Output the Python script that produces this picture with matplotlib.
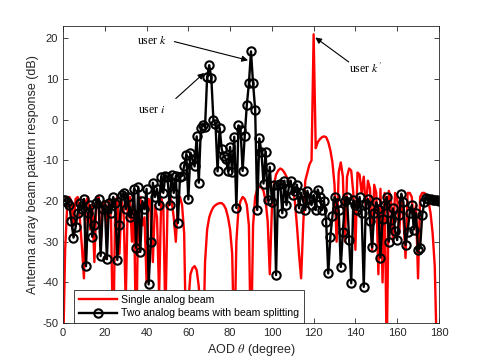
import numpy as np
import matplotlib
matplotlib.use("Agg")
import matplotlib.pyplot as plt

# AOD grid (degrees) and responses
theta = np.arange(0, 181)

single_beam = [
    -58, -32, -21, -19, -20, -26, -19.5, -19, -24, -31,
    -39, -20, -19, -27, -21, -35, -20, -19, -31, -21,
    -20, -28, -19.5, -25, -58, -20, -19, -33, -20, -22,
    -45, -20, -19, -30, -21, -58, -20, -19, -26, -24,
    -40, -19.5, -20, -35, -21, -24, -43, -19.5, -21, -49,
    -22, -19, -20, -24, -30, -20.5, -19, -21, -28, -58,
    -45, -38, -36.5, -36, -37, -41, -50, -58, -35, -27,
    -24, -22.5, -21.5, -21, -20.7, -20.5, -20.5, -21, -22, -24,
    -27, -33, -58, -30, -22, -20, -19, -19.5, -21, -26,
    -58, -26, -19, -17, -16.5, -16.6, -17.5, -20, -25, -38,
    -22, -16, -13.5, -12.5, -12, -12.3, -13, -14, -15, -16,
    -17, -20, -26, -33, -39, -26, -15, -13, -11, -10,
    21, -7, -5.5, -4.8, -4.3, -4.1, -4.3, -5.5, -7.5, -10.5,
    -16, -30, -13, -10.5, -14, -30, -14, -12, -12.5, -18,
    -32, -13, -13.5, -18, -14, -22, -15, -17, -32, -16,
    -18, -38, -17, -40, -18, -58, -17.5, -19, -30, -18,
    -19, -28, -18.5, -24, -34, -18, -18, -19, -26, -21,
    -39, -19, -18, -18, -18.5, -20, -23, -28, -36, -58,
    -62,
]

two_beams = [
    -19.7, -19.8, -20.3, -21, -25, -29, -26.5, -23, -20.5, -22,
    -19.5, -36, -23, -21, -28.8, -26, -20.5, -19.5, -33.5, -22,
    -21, -34.3, -20.5, -23, -19, -20.5, -34.5, -26, -18.5, -18,
    -22, -19, -24, -23, -17, -31.5, -16.5, -32.5, -20, -22,
    -17, -40.5, -30, -15.5, -19, -17, -21, -14, -18, -13.8,
    -14, -21, -13.5, -18, -13.8, -25.4, -14, -13.8, -11.4, -8.6,
    -19.6, -8.1, -9.7, -11.5, -4.1, -15.5, -2, -1.4, -1.8, 10.5,
    13.4, 10.3, 0, -1, -12.7, -2, -7.3, -8.9, -9.7, -12.7,
    -6.7, -12.8, -4.2, -21.7, -1.4, -2.5, -12.6, -4, 3.6, 8.9,
    16.8, 8.9, 2.5, -22.2, -4.6, -8, -15.7, -7.9, -19.8, -11.6,
    -20.2, -16, -38.2, -16.1, -15.7, -23, -15, -21, -17, -15,
    -18.5, -17.5, -16, -21.8, -18, -20, -22.2, -17.5, -19.5, -21,
    -18.5, -22.2, -17.2, -19, -22.2, -20, -25.1, -37.8, -28.8, -23.7,
    -19, -20.5, -22.2, -36.2, -27.5, -20, -19, -29.6, -40.2, -19.8,
    -21, -22.2, -19, -23, -41.1, -20.7, -19.5, -25, -31.4, -23,
    -20.3, -22, -33.9, -24.3, -21, -19, -30, -24.7, -21.8, -27.4,
    -29.6, -23.5, -18.2, -20.3, -30.8, -27.5, -23, -21, -27, -23,
    -32, -31.5, -23.5, -20.3, -19.2, -19.5, -19.6, -19.7, -19.8, -19.8,
    -19.9,
]

plt.rcParams['font.family'] = ['Liberation Sans', 'DejaVu Sans']
plt.rcParams['axes.unicode_minus'] = False
plt.rcParams['mathtext.fontset'] = 'stix'

fig = plt.figure(figsize=(4.85, 3.63), dpi=100)
ax = fig.add_axes([0.13, 0.11, 0.775, 0.818])

ax.plot(theta, single_beam, color='red', lw=1.7, label='Single analog beam')
ax.plot(theta, two_beams, color='black', lw=1.7, marker='o', ms=6,
        mfc='none', mew=1.5, label='Two analog beams with beam splitting')

ax.set_xlim(0, 180)
ax.set_ylim(-50, 23)
ax.set_xticks(np.arange(0, 181, 20))
ax.set_yticks(np.arange(-50, 21, 10))

grey = '#262626'
for s in ax.spines.values():
    s.set_linewidth(0.6)
    s.set_color(grey)
ax.tick_params(direction='in', top=True, right=True, length=3.5, width=0.6,
               labelsize=8, colors=grey)

ax.set_xlabel(r'AOD $\theta$ (degree)', fontsize=9, color=grey, labelpad=3)
ax.set_ylabel('Antenna array beam pattern response (dB)', fontsize=9,
              color=grey, labelpad=2)

# annotations
serif = ['Liberation Serif', 'DejaVu Serif']
arrow = dict(arrowstyle='-|>', color='k', lw=0.8, mutation_scale=9,
             shrinkA=0, shrinkB=0)
ax.annotate('', xy=(88.6, 14.6), xytext=(53.3, 19.2), arrowprops=arrow)
ax.text(42.5, 19.3, r'user $k$', family=serif, fontsize=8.5, ha='center', va='center')
ax.annotate('', xy=(67.6, 11.5), xytext=(54.0, 5.2), arrowprops=arrow)
ax.text(42.6, 2.3, r'user $i$', family=serif, fontsize=8.5, ha='center', va='center')
ax.annotate('', xy=(120.8, 20.2), xytext=(136.8, 14.2), arrowprops=arrow)
ax.text(145.0, 12.6, r"user $k'$", family=serif, fontsize=8.5, ha='center', va='center')

leg = ax.legend(loc='lower left', bbox_to_anchor=(0.029, 0.0), borderaxespad=0,
                fontsize=7.6, handlelength=3.6, frameon=True, fancybox=False,
                framealpha=1, edgecolor=grey, borderpad=0.45, labelspacing=0.35,
                handletextpad=0.4)
leg.get_frame().set_linewidth(0.6)

fig.savefig('out.png', dpi=100, facecolor='white')
